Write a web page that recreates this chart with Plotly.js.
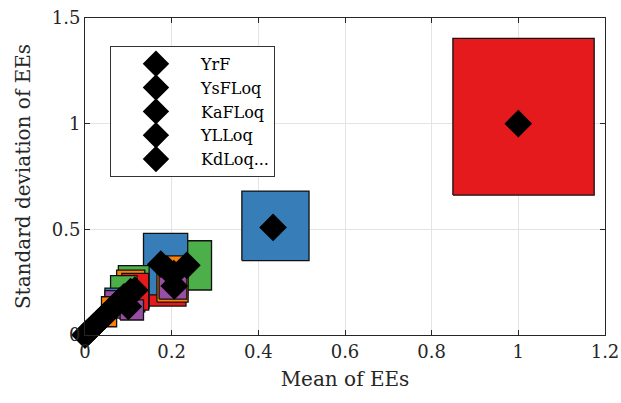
<!DOCTYPE html>
<html>
<head>
<meta charset="utf-8">
<script src="https://cdn.plot.ly/plotly-3.0.1.min.js"></script>
<style>html,body{margin:0;padding:0;background:#fff;}#chart{width:621px;height:403px;}</style>
</head>
<body>
<div id="chart"></div>
<script>
// Legend labels (first parameters; last entry stands for the rest)
const legendNames = ['YrF', 'YsFLoq', 'KaFLoq', 'YLLoq', 'KdLoq...'];

// Per-parameter values
const meanEE = [1.000, 0.434, 0.235, 0.206, 0.205, 0.190, 0.175, 0.115, 0.105, 0.105, 0.090, 0.080, 0.075, 0.055, 0.100, 0.045, 0.030, 0.020, 0.010, 0.004, 0.000];
const stdEE  = [1.000, 0.509, 0.330, 0.232, 0.290, 0.310, 0.335, 0.212, 0.205, 0.195, 0.180, 0.160, 0.150, 0.110, 0.135, 0.090, 0.060, 0.040, 0.020, 0.008, 0.000];
// Confidence bounds (boxes)
const meanLo = [0.849, 0.362, 0.189, 0.171, 0.166, 0.135, 0.143, 0.077, 0.073, 0.085, 0.059, 0.046, 0.046, 0.038, 0.081, 0.035, 0.022, 0.015, 0.007, 0.003, 0.000];
const meanHi = [1.175, 0.517, 0.292, 0.235, 0.238, 0.237, 0.233, 0.148, 0.138, 0.147, 0.120, 0.110, 0.105, 0.073, 0.135, 0.056, 0.038, 0.025, 0.013, 0.005, 0.000];
const stdLo  = [0.662, 0.352, 0.213, 0.170, 0.156, 0.190, 0.137, 0.127, 0.110, 0.118, 0.100, 0.090, 0.080, 0.039, 0.071, 0.060, 0.040, 0.028, 0.014, 0.006, 0.000];
const stdHi  = [1.404, 0.681, 0.446, 0.330, 0.374, 0.481, 0.434, 0.328, 0.307, 0.292, 0.281, 0.222, 0.210, 0.181, 0.166, 0.120, 0.080, 0.052, 0.026, 0.010, 0.000];
// Colour group of each parameter's box
const colorGroup = [0, 1, 2, 3, 4, 1, 0, 2, 4, 0, 2, 1, 3, 4, 3, 0, 1, 2, 3, 4, 0];

const palette = ['#e41a1c', '#377eb8', '#4daf4a', '#984ea3', '#ff7f00'];
const FONT = 'DejaVu Serif';

const traces = [];
// boxes, largest std drawn first
const order = meanEE.map((_, i) => i).sort((a, b) => stdEE[b] - stdEE[a]);
order.forEach(i => {
  if (meanHi[i] - meanLo[i] <= 0) return;
  traces.push({
    type: 'scatter', mode: 'lines',
    x: [meanLo[i], meanHi[i], meanHi[i], meanLo[i], meanLo[i]],
    y: [stdLo[i], stdLo[i], stdHi[i], stdHi[i], stdLo[i]],
    fill: 'toself', fillcolor: palette[colorGroup[i]],
    line: {color: '#111', width: 1.3},
    showlegend: false, hoverinfo: 'skip'
  });
});

// markers: entries 0..3 single parameters, entry 4 the rest
legendNames.forEach((nm, k) => {
  const idx = k < 4 ? [k] : meanEE.map((_, i) => i).filter(i => i >= 4);
  traces.push({
    type: 'scatter', mode: 'markers', name: nm,
    x: idx.map(i => meanEE[i]), y: idx.map(i => stdEE[i]),
    marker: {symbol: 'diamond', size: 17, color: '#000', line: {color: '#000', width: 4}},
    cliponaxis: false
  });
});

const axisCommon = {
  showgrid: true, gridcolor: '#e4e4e4', gridwidth: 1,
  showline: true, linecolor: '#262626', linewidth: 1, mirror: 'ticks',
  ticks: 'inside', ticklen: 5, tickcolor: '#262626',
  zeroline: false,
  tickfont: {family: FONT, size: 18, color: '#262626'}
};

const layout = {
  width: 621, height: 403,
  margin: {l: 85, r: 16, t: 18, b: 68},
  paper_bgcolor: '#fff', plot_bgcolor: '#fff',
  font: {family: FONT},
  xaxis: Object.assign({}, axisCommon, {
    range: [0, 1.2], tickvals: [0, 0.2, 0.4, 0.6, 0.8, 1, 1.2],
    ticktext: ['0', '0.2', '0.4', '0.6', '0.8', '1', '1.2'],
    title: {text: 'Mean of EEs', font: {family: FONT, size: 20, color: '#262626'}, standoff: 11}
  }),
  yaxis: Object.assign({}, axisCommon, {
    range: [0, 1.5], tickvals: [0, 0.5, 1, 1.5],
    ticktext: ['0', '0.5', '1', '1.5'],
    title: {text: 'Standard deviation of EEs', font: {family: FONT, size: 20, color: '#262626'}, standoff: 15}
  }),
  legend: {
    x: 0.048, y: 0.912, xanchor: 'left', yanchor: 'top',
    bgcolor: '#fff', bordercolor: '#333', borderwidth: 1,
    font: {family: FONT, size: 16, color: '#000'},
    itemwidth: 80
  },
  showlegend: true
};

Plotly.newPlot('chart', traces, layout, {staticPlot: true, displayModeBar: false});
</script>
</body>
</html>
